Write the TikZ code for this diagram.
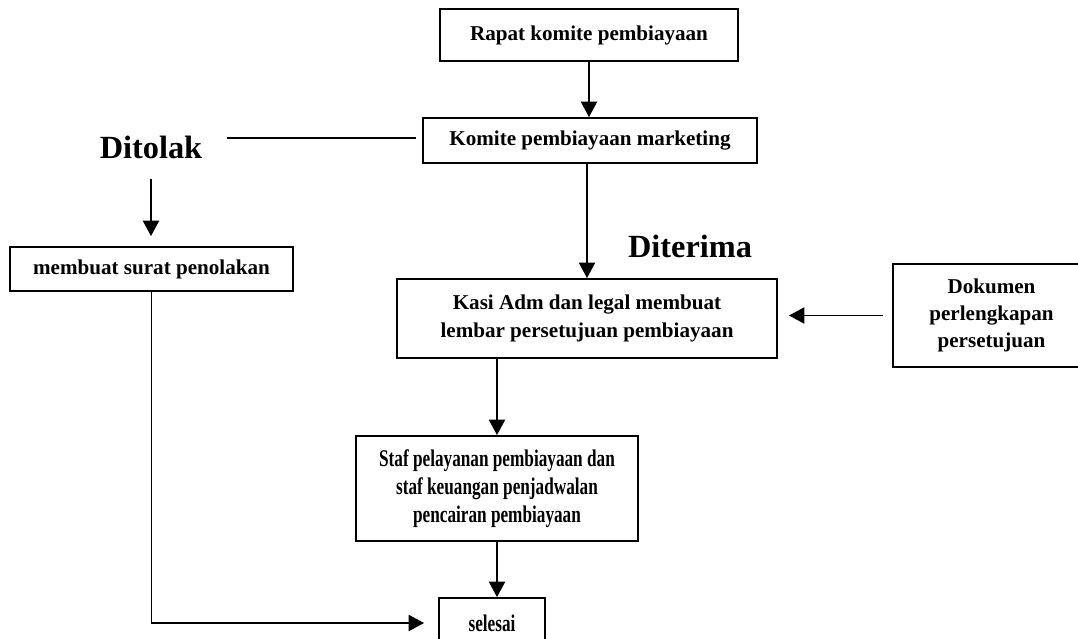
\documentclass[tikz,border=0pt]{standalone}
\usepackage{fontspec}
\setmainfont{Liberation Serif}
\newfontfamily\narrowfont[FakeStretch=0.72]{Liberation Serif}
\usetikzlibrary{arrows.meta}

\tikzset{
    box/.style={draw, line width=1.3pt, align=center, inner sep=2pt,
        font=\bfseries\fontsize{15}{19.5}\selectfont},
    narrowbox/.style={box, font=\narrowfont\bfseries\fontsize{17}{20}\selectfont},
    arr/.style={-{Triangle[length=11pt,width=11.5pt]}, line width=1.3pt},
    lbl/.style={inner sep=0pt, anchor=base, font=\bfseries\fontsize{23}{27}\selectfont}
}

\begin{document}
\begin{tikzpicture}[x=0.025cm, y=-0.025cm]

    \useasboundingbox (0,0) rectangle (1078,638);
    \clip (0,0) rectangle (1078,638);

    % main column
    \node[box, minimum width=7.45cm, minimum height=1.3cm] (rapat) at (589,35) {Rapat komite pembiayaan};
    \node[box, minimum width=8.35cm, minimum height=1.125cm] (komite) at (590,140.5) {Komite pembiayaan marketing};
    \node[box, minimum width=9.5cm, minimum height=1.975cm] (kasi) at (587,318.5) {Kasi Adm dan legal membuat\\lembar persetujuan pembiayaan};
    \node[narrowbox, minimum width=7.05cm, minimum height=2.625cm] (staf) at (497,488.5) {Staf pelayanan pembiayaan dan\\staf keuangan penjadwalan\\pencairan pembiayaan};
    \node[narrowbox, minimum width=2.65cm, minimum height=1.25cm] (selesai) at (492,623) {selesai};

    % side boxes
    \node[box, minimum width=7.075cm, minimum height=1.1cm] (surat) at (151.5,269) {membuat surat penolakan};
    \node[box, minimum width=4.925cm, minimum height=2.575cm] (dokumen) at (991.5,315.5) {Dokumen\\perlengkapan\\persetujuan};

    \node[lbl] (ditolak) at (151,158) {Ditolak};
    \node[lbl] (diterima) at (690,257) {Diterima};

    \draw[arr] (rapat) -- (rapat |- komite.north);
    \draw[arr] (kasi.north |- komite.south) -- (kasi.north);
    \draw[arr] (staf.north |- kasi.south) -- (staf.north);
    \draw[arr] (staf.south) -- (staf.south |- selesai.north);

    \draw[line width=1.3pt, shorten <=0.6cm, shorten >=0.15cm] (ditolak.east |- 0,138) -- (komite.west |- 0,138);
    \draw[arr, shorten <=0.5cm, shorten >=0.25cm] (ditolak.south) -- (ditolak.south |- surat.north);
    \draw[arr, shorten >=0.35cm] (surat.south) |- (selesai.west);
    \draw[arr, shorten <=0.225cm, shorten >=0.275cm] (dokumen.west) -- (dokumen.west -| kasi.east);

\end{tikzpicture}
\end{document}
